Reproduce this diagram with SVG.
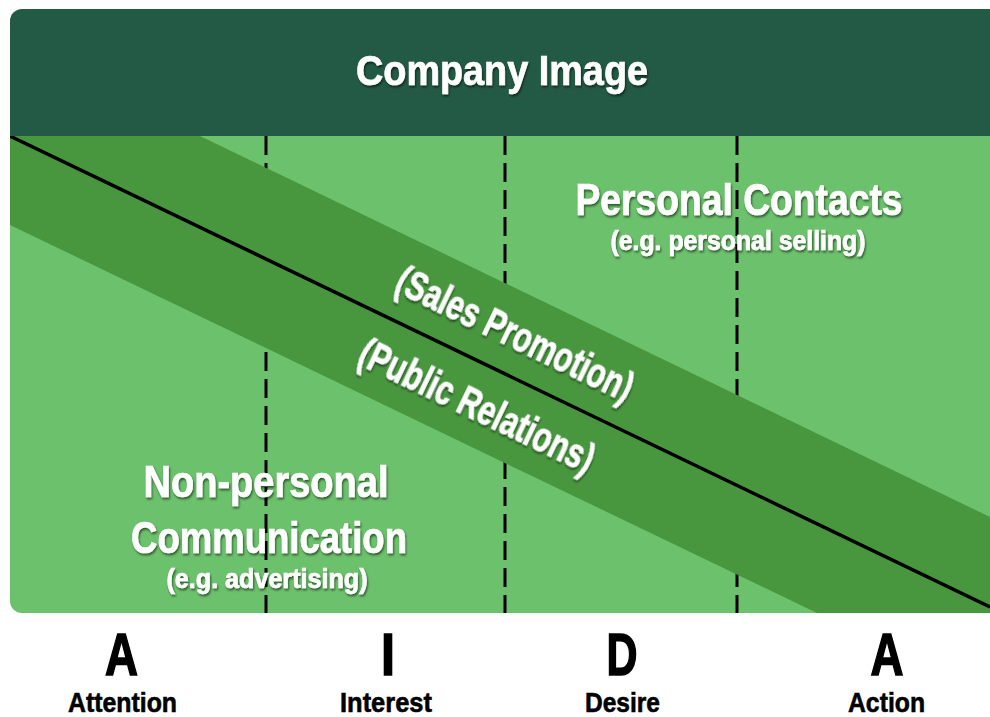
<svg xmlns="http://www.w3.org/2000/svg" width="990" height="717" viewBox="0 0 990 717">
<style>
.w{fill:#ffffff;stroke:#ffffff;stroke-width:0.7;font-family:"Liberation Sans Narrow","Liberation Sans",Arial,sans-serif;font-weight:bold;text-anchor:middle;filter:url(#sh)}
.k{fill:#000000;stroke:#000000;font-family:"Liberation Sans Narrow","Liberation Sans",Arial,sans-serif;font-weight:bold;text-anchor:middle}
.big{stroke-width:1.6}
.small{stroke-width:0.6}
.dash{stroke:#000;stroke-width:3;stroke-dasharray:19 8;fill:none}
</style>
<defs>
<clipPath id="panel"><rect x="10" y="9" width="1000" height="604" rx="12"/></clipPath>
<filter id="sh" x="-10%" y="-30%" width="120%" height="160%"><feDropShadow dx="1" dy="2" stdDeviation="1.3" flood-color="#000" flood-opacity="0.55"/></filter>
</defs>
<rect width="990" height="717" fill="#ffffff"/>
<g clip-path="url(#panel)">
<rect id="body" x="10" y="136" width="1000" height="477" fill="#6cc16c"/>
<g id="dividers">
<line class="dash" x1="266" y1="136" x2="266" y2="613"/>
<line class="dash" x1="505" y1="136" x2="505" y2="613"/>
<line class="dash" x1="737" y1="136" x2="737" y2="613"/>
</g>
<polygon id="band" points="10,136 200,136 990,517 990,613 817,613 10,225" fill="#48973f"/>
<line id="divline" x1="10" y1="136" x2="990" y2="607" stroke="#000" stroke-width="3.5"/>
<rect id="header" x="10" y="9" width="1000" height="127" fill="#235a45"/>
</g>
<g id="header-label"><text class="w" x="502" y="85" font-size="43" textLength="292" lengthAdjust="spacingAndGlyphs">Company Image</text></g>
<g id="personal">
<text class="w" x="739" y="215" font-size="45" textLength="327" lengthAdjust="spacingAndGlyphs">Personal Contacts</text>
<text class="w" x="738" y="250" font-size="27" textLength="255" lengthAdjust="spacingAndGlyphs">(e.g. personal selling)</text>
</g>
<g id="nonpersonal">
<text class="w" x="266" y="497" font-size="45" textLength="245" lengthAdjust="spacingAndGlyphs">Non-personal</text>
<text class="w" x="269" y="553" font-size="45" textLength="276" lengthAdjust="spacingAndGlyphs">Communication</text>
<text class="w" x="267" y="588" font-size="27" textLength="201" lengthAdjust="spacingAndGlyphs">(e.g. advertising)</text>
</g>
<g id="sales" transform="translate(515,334) rotate(25.7)"><text class="w" x="0" y="14" font-size="42" textLength="258" lengthAdjust="spacingAndGlyphs">(Sales Promotion)</text></g>
<g id="public" transform="translate(477,406) rotate(25.7)"><text class="w" x="0" y="14" font-size="42" textLength="256" lengthAdjust="spacingAndGlyphs">(Public Relations)</text></g>
<g id="aida">
<text class="k big" x="121.5" y="675" font-size="60" textLength="33" lengthAdjust="spacingAndGlyphs">A</text>
<text class="k big" x="388" y="675" font-size="60" textLength="14" lengthAdjust="spacingAndGlyphs">I</text>
<text class="k big" x="622" y="675" font-size="60" textLength="31" lengthAdjust="spacingAndGlyphs">D</text>
<text class="k big" x="887" y="675" font-size="60" textLength="33" lengthAdjust="spacingAndGlyphs">A</text>
<text class="k small" x="122.5" y="712" font-size="28" textLength="109" lengthAdjust="spacingAndGlyphs">Attention</text>
<text class="k small" x="386" y="712" font-size="28" textLength="92" lengthAdjust="spacingAndGlyphs">Interest</text>
<text class="k small" x="622.5" y="712" font-size="28" textLength="75" lengthAdjust="spacingAndGlyphs">Desire</text>
<text class="k small" x="886.5" y="712" font-size="28" textLength="77" lengthAdjust="spacingAndGlyphs">Action</text>
</g>
</svg>
